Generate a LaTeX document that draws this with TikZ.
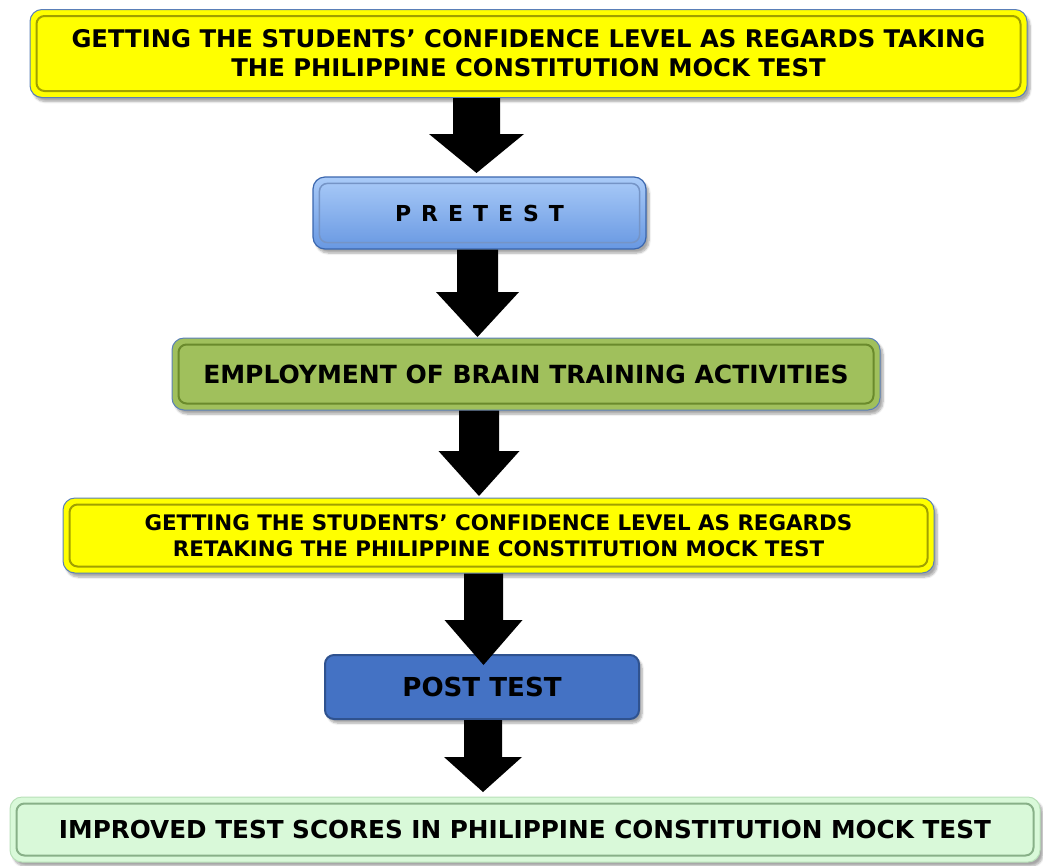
\documentclass[tikz,border=0pt]{standalone}
\usepackage{fontspec}
\setmainfont{DejaVu Sans}
\usetikzlibrary{shadows.blur,calc}
\definecolor{ylw}{HTML}{FFFF00}
\definecolor{ylwdark}{HTML}{A0A000}
\definecolor{rim}{HTML}{5A7FB8}
\definecolor{pblueA}{HTML}{AACBF8}
\definecolor{pblueB}{HTML}{6898E2}
\definecolor{pbluedark}{HTML}{3A66AE}
\definecolor{grn}{HTML}{A0C05C}
\definecolor{grndark}{HTML}{6A8A2C}
\definecolor{postblue}{HTML}{4472C4}
\definecolor{postdark}{HTML}{2F528F}
\definecolor{mint}{HTML}{D9F9D9}
\definecolor{mintdark}{HTML}{88B088}
\definecolor{mintrim}{HTML}{B8E0B8}
\tikzset{
  boxbase/.style={rounded corners=12pt, inner sep=0pt, align=center,
    blur shadow={shadow xshift=3pt, shadow yshift=-4pt, shadow blur steps=6, shadow opacity=35}},
  ylwbox/.style={boxbase, fill=ylw, draw=rim, line width=1pt},
  pretestbox/.style={boxbase, top color=pblueA, bottom color=pblueB, draw=pbluedark, line width=1.2pt},
  grnbox/.style={boxbase, fill=grn, draw=rim, line width=1pt},
  postbox/.style={boxbase, rounded corners=9pt, fill=postblue, draw=postdark, line width=2pt},
  mintbox/.style={boxbase, fill=mint, draw=mintrim, line width=1pt},
  barrowfill/.style={fill=black},
}
\newcommand{\bevelbox}[2]{%
  \draw[#2, rounded corners=8pt] ([shift={(7pt,7pt)}]#1.south west) rectangle ([shift={(-7pt,-7pt)}]#1.north east);}
% #1 src, #2 dst, #3 center x, #4 shaft half, #5 head half, #6 head start y (px), #7 tip y (px)
\newcommand{\blockarrow}[7]{%
  \fill[barrowfill] let \p1=(#1.south), \p2=(#2.north) in
    ({#3pt-#4pt}, \y1) -- ({#3pt+#4pt}, \y1) -- ({#3pt+#4pt}, -#6pt) -- ({#3pt+#5pt}, -#6pt) --
    (#3pt, -#7pt) -- ({#3pt-#5pt}, -#6pt) -- ({#3pt-#4pt}, -#6pt) -- cycle;}
\begin{document}
\begin{tikzpicture}[x=1pt, y=-1pt]
\useasboundingbox (0,0) rectangle (1043,865);
\node[ylwbox, minimum width=997pt, minimum height=88pt, font=\fontsize{24.3}{29}\bfseries\selectfont]
  (b1) at (528.5,53.5) {GETTING THE STUDENTS’ CONFIDENCE LEVEL AS REGARDS TAKING\\THE PHILIPPINE CONSTITUTION MOCK TEST};
\bevelbox{b1}{ylwdark, line width=2pt}
\node[pretestbox, minimum width=333pt, minimum height=72pt, font=\fontsize{22}{26}\bfseries\selectfont]
  (b2) at (479.5,213) {P\hspace{10pt}R\hspace{10pt}E\hspace{10pt}T\hspace{10pt}E\hspace{10pt}S\hspace{10pt}T};
\bevelbox{b2}{pbluedark!70, line width=1.5pt}
\node[grnbox, minimum width=708pt, minimum height=72pt, font=\fontsize{25}{29}\bfseries\selectfont]
  (b3) at (526,374) {EMPLOYMENT OF BRAIN TRAINING ACTIVITIES};
\bevelbox{b3}{grndark, line width=2pt}
\node[ylwbox, minimum width=871pt, minimum height=75pt, font=\fontsize{21.4}{26}\bfseries\selectfont]
  (b4) at (498.5,535.5) {GETTING THE STUDENTS’ CONFIDENCE LEVEL AS REGARDS\\RETAKING THE PHILIPPINE CONSTITUTION MOCK TEST};
\bevelbox{b4}{ylwdark, line width=2pt}
\node[postbox, minimum width=314pt, minimum height=64pt, font=\fontsize{26.1}{30}\bfseries\selectfont]
  (b5) at (482,687) {POST TEST};
\node[mintbox, minimum width=1030pt, minimum height=65pt, font=\fontsize{24.7}{29}\bfseries\selectfont]
  (b6) at (525,829.5) {IMPROVED TEST SCORES IN PHILIPPINE CONSTITUTION MOCK TEST};
\bevelbox{b6}{mintdark, line width=2pt}
\blockarrow{b1}{b2}{476.5}{23.5}{47.5}{134}{173}
\blockarrow{b2}{b3}{477.5}{20.5}{41.5}{292}{337}
\blockarrow{b3}{b4}{479}{20}{40.5}{451}{496}
\blockarrow{b4}{b5}{483.5}{19.5}{39}{620}{665}
\blockarrow{b5}{b6}{483}{19}{39}{757}{792}
\end{tikzpicture}
\end{document}
